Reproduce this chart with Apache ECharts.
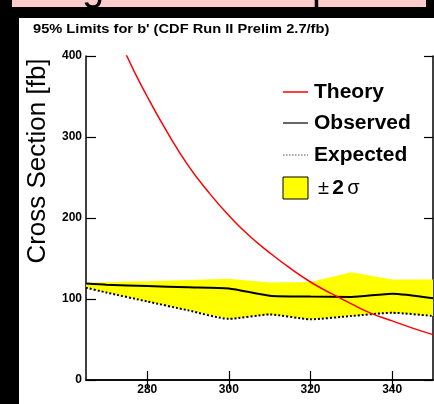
<!DOCTYPE html>
<html><head><meta charset="utf-8">
<script src="https://cdn.jsdelivr.net/npm/echarts@6/dist/echarts.min.js"></script>
<style>html,body{margin:0;padding:0;background:#000}#c{width:434px;height:404px}</style>
</head><body><div id="c"></div>
<script>
const subtitle = "95% Limits for b' (CDF Run II Prelim 2.7/fb)";
const yTitle = "Cross Section [fb]";
const legendNames = ['Theory', 'Observed', 'Expected'];
const xTicks = [280, 300, 320, 340];
const massTheory = [265, 270, 275, 280, 285, 290, 295, 300, 305, 310, 315, 320, 325, 330, 335, 340, 345, 350];
const theory =     [530, 460, 400, 350, 305, 265, 232, 203, 178, 157, 138, 121, 107, 94, 82, 73, 64, 56];
const massLimits = [265, 270, 280, 290, 300, 310, 320, 330, 340, 350];
const observed =   [119, 117.5, 116, 114.5, 113, 104, 103, 102.5, 106.5, 101];
const expected =   [114, 108, 97, 86, 75.5, 81, 75, 79, 83, 79];
const bandUpper =  [120, 121, 122, 123.5, 125, 120.5, 121, 133, 124, 124];

const FONT = 'Liberation Sans, Arial, Helvetica, sans-serif';
const pairs = (xs, ys) => xs.map((x, i) => [x, ys[i]]);

const LX = 283, LW = 25, LT = 314;
const rowY = [92, 123, 155, 188];

const chart = echarts.init(document.getElementById('c'), null, {renderer: 'canvas'});
chart.setOption({
  backgroundColor: '#000',
  animation: false,
  graphic: {elements: [
    {type: 'rect', z: -10, shape: {x: 12, y: 0, width: 414, height: 7}, style: {fill: '#ffcccc'}},
    {type: 'text', z: -9, x: 82, y: -31, style: {text: 'g', font: '40px ' + FONT, fill: '#000'}},
    {type: 'text', z: -9, x: 312, y: -31, style: {text: 'p', font: '40px ' + FONT, fill: '#000'}},
    {type: 'rect', z: -8, shape: {x: 19, y: 18, width: 415, height: 386}, style: {fill: '#fff'}},
    {type: 'text', z: 5, x: 33, y: 30, scaleX: 1.22,
     style: {text: subtitle, font: 'bold 12px ' + FONT, fill: '#000', verticalAlign: 'middle'}},
    {type: 'text', z: 5, x: 38, y: 161, rotation: Math.PI / 2,
     style: {text: yTitle, font: '26px ' + FONT, fill: '#000', align: 'center', verticalAlign: 'middle'}},
    // legend
    {type: 'line', z: 5, shape: {x1: LX, y1: rowY[0], x2: LX + LW, y2: rowY[0]}, style: {stroke: '#ff0000', lineWidth: 1.5}},
    {type: 'line', z: 5, shape: {x1: LX, y1: rowY[1], x2: LX + LW, y2: rowY[1]}, style: {stroke: '#333', lineWidth: 1.5}},
    {type: 'line', z: 5, shape: {x1: LX, y1: rowY[2], x2: LX + LW, y2: rowY[2]}, style: {stroke: '#555', lineWidth: 1, lineDash: [1.5, 1.5]}},
    {type: 'rect', z: 5, shape: {x: LX, y: rowY[3] - 11, width: LW, height: 22}, style: {fill: '#ffff00', stroke: '#000', lineWidth: 1}},
    {type: 'text', z: 5, x: LT, y: rowY[0], scaleX: 1.05, style: {text: legendNames[0], font: 'bold 20px ' + FONT, fill: '#000', verticalAlign: 'middle'}},
    {type: 'text', z: 5, x: LT, y: rowY[1], scaleX: 1.05, style: {text: legendNames[1], font: 'bold 20px ' + FONT, fill: '#000', verticalAlign: 'middle'}},
    {type: 'text', z: 5, x: LT, y: rowY[2], scaleX: 1.05, style: {text: legendNames[2], font: 'bold 20px ' + FONT, fill: '#000', verticalAlign: 'middle'}},
    {type: 'text', z: 5, x: 318, y: rowY[3], style: {text: '{n|±} {b|2} {n|σ}', verticalAlign: 'middle',
      rich: {n: {font: '20px ' + FONT, fill: '#000'}, b: {font: 'bold 21px ' + FONT, fill: '#000'}}}}
  ]},
  grid: {left: 86, right: 1, top: 56, bottom: 24, containLabel: false},
  xAxis: [
    {type: 'value', min: 265, max: 350, position: 'bottom',
      axisLine: {lineStyle: {color: '#000', width: 1.5}},
      axisTick: {inside: true, length: 9, customValues: xTicks, lineStyle: {color: '#000', width: 1.2}},
      axisLabel: {customValues: xTicks, color: '#000', fontFamily: FONT, fontSize: 12, fontWeight: 'bold', margin: 4},
      splitLine: {show: false}},
    {type: 'value', min: 265, max: 350, position: 'top',
      axisLine: {lineStyle: {color: '#000', width: 1.5}},
      axisTick: {inside: true, length: 9, customValues: xTicks, lineStyle: {color: '#000', width: 1.2}},
      axisLabel: {show: false}, splitLine: {show: false}}
  ],
  yAxis: [
    {type: 'value', min: 0, max: 400, interval: 100, position: 'left',
      axisLine: {show: true, lineStyle: {color: '#000', width: 1.5}},
      axisTick: {show: true, inside: true, length: 10, lineStyle: {color: '#000', width: 1.2}},
      axisLabel: {color: '#000', fontFamily: FONT, fontSize: 12, fontWeight: 'bold', margin: 4},
      splitLine: {show: false}},
    {type: 'value', min: 0, max: 400, interval: 100, position: 'right',
      axisLine: {show: true, lineStyle: {color: '#000', width: 1.5}},
      axisTick: {show: true, inside: true, length: 9, lineStyle: {color: '#000', width: 1.2}},
      axisLabel: {show: false}, splitLine: {show: false}}
  ],
  series: [
    {name: '±2σ', type: 'custom', data: pairs(massLimits, bandUpper), z: 1, silent: true,
      renderItem: function (params, api) {
        if (params.dataIndex !== 0) return null;
        const pts = [];
        for (let i = 0; i < massLimits.length; i++) pts.push(api.coord([massLimits[i], bandUpper[i]]));
        for (let i = massLimits.length - 1; i >= 0; i--) pts.push(api.coord([massLimits[i], expected[i]]));
        return {type: 'polygon', shape: {points: pts}, style: {fill: '#ffff00'}};
      }},
    {name: 'Expected', type: 'line', data: pairs(massLimits, expected), symbol: 'none', smooth: 0.2,
      lineStyle: {color: '#000', width: 2, type: [2, 2]}, z: 3},
    {name: 'Observed', type: 'line', data: pairs(massLimits, observed), symbol: 'none', smooth: 0.2,
      lineStyle: {color: '#000', width: 2}, z: 3},
    {name: 'Theory', type: 'line', data: pairs(massTheory, theory), symbol: 'none', smooth: true,
      lineStyle: {color: '#ff0000', width: 1.5}, z: 4}
  ]
});
</script></body></html>
